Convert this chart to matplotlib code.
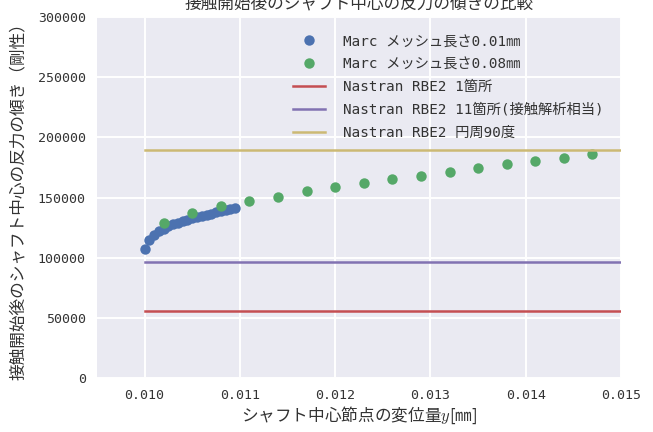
import matplotlib
matplotlib.use('Agg')
import matplotlib.pyplot as plt

# Marc メッシュ長さ0.01mm
marc_fine_x = [0.01000, 0.01005, 0.01010, 0.01015, 0.01020, 0.01025, 0.01030, 0.01035, 0.01040, 0.01045,
               0.01050, 0.01055, 0.01060, 0.01065, 0.01070, 0.01075, 0.01080, 0.01085, 0.01090, 0.01095]
marc_fine_y = [107500, 114500, 118800, 121800, 124000, 126000, 127700, 129200, 130500, 131700,
               132800, 133900, 134900, 135800, 136700, 137600, 138500, 139300, 140100, 140900]

# Marc メッシュ長さ0.08mm
marc_coarse_x = [0.0102, 0.0105, 0.0108, 0.0111, 0.0114, 0.0117, 0.0120, 0.0123,
                 0.0126, 0.0129, 0.0132, 0.0135, 0.0138, 0.0141, 0.0144, 0.0147]
marc_coarse_y = [128600, 136900, 143200, 147300, 150700, 155400, 158500, 161800,
                 165100, 168100, 171400, 174300, 177600, 180300, 183100, 186100]

# Nastran RBE2 剛性
nastran_x = [0.0100, 0.0150]
nastran_1 = 56000
nastran_11 = 96500
nastran_90 = 189500

xticks = [0.010, 0.011, 0.012, 0.013, 0.014, 0.015]
yticks = [0, 50000, 100000, 150000, 200000, 250000, 300000]

BG = '#EAEAF2'
TXT = '#333333'
jp = ['Noto Sans CJK JP', 'DejaVu Sans']
mono = ['DejaVu Sans Mono', 'Noto Sans CJK JP']
plt.rcParams['mathtext.fontset'] = 'cm'

fig = plt.figure( figsize=(6.53, 4.32), dpi=100 )
ax = fig.add_axes( [0.1485, 0.125, 0.8025, 0.8356] )
ax.set_facecolor( BG )
for s in ax.spines.values() :
    s.set_visible( False )
ax.grid( True, color='white', linewidth=1.4 )
ax.set_axisbelow( True )

ax.plot( marc_fine_x, marc_fine_y, 'o', color='#4C72B0', markersize=7.5, markeredgewidth=0,
         label='Marc メッシュ長さ0.01㎜' )
ax.plot( marc_coarse_x, marc_coarse_y, 'o', color='#55A868', markersize=7.5, markeredgewidth=0,
         label='Marc メッシュ長さ0.08㎜' )
ax.plot( nastran_x, [nastran_1] * 2, '-', color='#C44E52', linewidth=1.8, label='Nastran RBE2 1箇所' )
ax.plot( nastran_x, [nastran_11] * 2, '-', color='#8172B2', linewidth=1.8, label='Nastran RBE2 11箇所(接触解析相当)' )
ax.plot( nastran_x, [nastran_90] * 2, '-', color='#CCB974', linewidth=1.8, label='Nastran RBE2 円周90度' )

ax.set_xlim( 0.0095, 0.015 )
ax.set_ylim( 0, 300000 )
ax.set_xticks( xticks )
ax.set_xticklabels( ['%.3f' % v for v in xticks] )
ax.set_yticks( yticks )
ax.set_yticklabels( [str( v ) for v in yticks] )
ax.tick_params( length=0, pad=8, colors=TXT )
for lab in ax.get_xticklabels() + ax.get_yticklabels() :
    lab.set_family( mono )
    lab.set_fontsize( 9.5 )

ax.set_xlabel( 'シャフト中心節点の変位量$y$[㎜]', family=jp, fontsize=12, color=TXT, labelpad=2 )
ax.set_ylabel( '接触開始後のシャフト中心の反力の傾き（剛性）', family=jp, fontsize=12, color=TXT, labelpad=8 )

leg = ax.legend( loc='upper right', frameon=False, numpoints=1, prop={'family' : mono, 'size' : 10.3},
                 borderaxespad=0.8, handlelength=2.2, handletextpad=1.3, labelspacing=0.62 )
for t in leg.get_texts() :
    t.set_color( TXT )

# title cut off at the top of the original image
fig.text( 0.55, 1 - 8 / 432, '接触開始後のシャフト中心の反力の傾きの比較', family=jp, fontsize=12,
          color=TXT, ha='center', va='baseline' )

fig.savefig( 'out.png', dpi=100, facecolor='white' )
